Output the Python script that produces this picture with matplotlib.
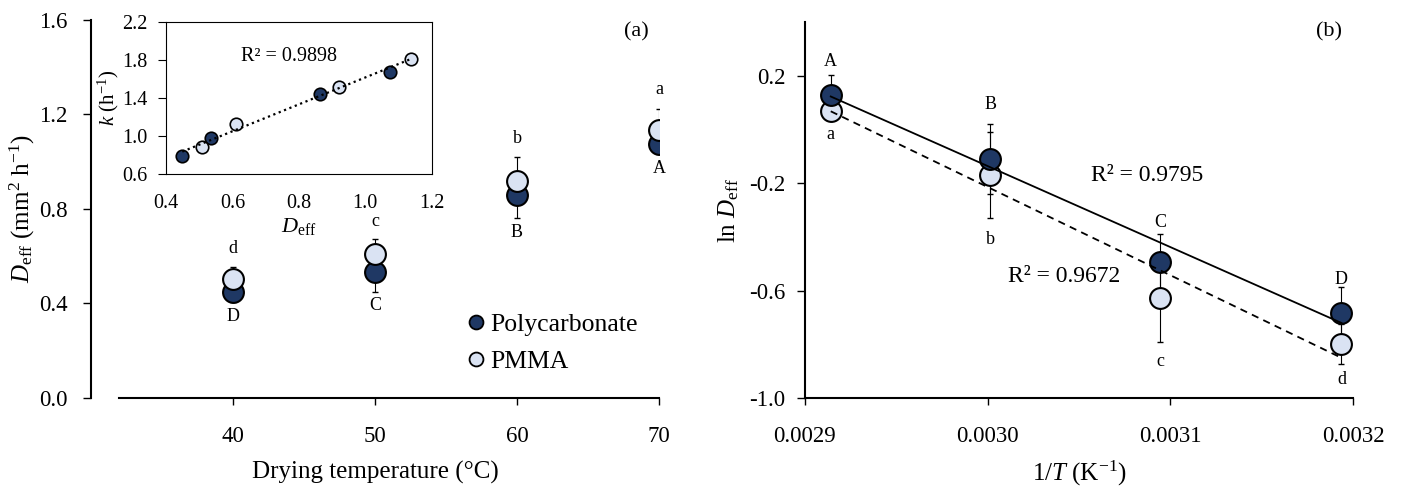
import matplotlib
matplotlib.use('Agg')
import matplotlib.pyplot as plt
from matplotlib.lines import Line2D
import numpy as np

plt.rcParams['font.family'] = ['Liberation Serif', 'DejaVu Serif']
plt.rcParams['mathtext.fontset'] = 'custom'
plt.rcParams['mathtext.rm'] = 'Liberation Serif'
plt.rcParams['mathtext.it'] = 'Liberation Serif:italic'
plt.rcParams['axes.unicode_minus'] = False

dark = '#1F3864'
light = '#DAE3F3'

# (a) D_eff vs drying temperature
temps = [40, 50, 60, 70]
deff_pc = [0.447, 0.535, 0.860, 1.074]
err_pc = [0.04, 0.085, 0.098, 0.04]
deff_pmma = [0.505, 0.608, 0.920, 1.134]
err_pmma = [0.049, 0.065, 0.100, 0.088]
lab_pmma = ['d', 'c', 'b', 'a']
lab_pmma_y = [0.634, 0.749, 1.099, 1.307]
lab_pc = ['D', 'C', 'B', 'A']
lab_pc_y = [0.347, 0.391, 0.701, 0.972]

# inset: k vs D_eff
ins_deff_pc = [0.449, 0.535, 0.863, 1.073]
ins_k_pc = [0.795, 0.984, 1.445, 1.672]
ins_deff_pmma = [0.507, 0.610, 0.920, 1.137]
ins_k_pmma = [0.883, 1.124, 1.519, 1.812]

# (b) Arrhenius plot
inv_T = [0.0029141, 0.0030014, 0.0030945, 0.0031937]
ln_pc = [0.127, -0.109, -0.495, -0.683]
ln_err_pc = [0.075, 0.13, 0.105, 0.095]
ln_pmma = [0.070, -0.169, -0.629, -0.799]
ln_err_pmma = [0.03, 0.161, 0.162, 0.075]
lab_b_up = ['A', 'B', 'C', 'D']
lab_b_up_y = [0.252, 0.091, -0.346, -0.560]
lab_b_dn = ['a', 'b', 'c', 'd']
lab_b_dn_y = [-0.020, -0.411, -0.865, -0.931]

fig = plt.figure(figsize=(14.03, 4.86), dpi=100)

# ---------------- panel (a) ----------------
ax = fig.add_axes([0.06486, 0.18107, 0.40485, 0.77778])
ax.errorbar(temps, deff_pc, yerr=err_pc, fmt='none', ecolor='black',
            elinewidth=0.8, capsize=2, zorder=2)
ax.errorbar(temps, deff_pmma, yerr=err_pmma, fmt='none', ecolor='black',
            elinewidth=0.8, capsize=2, zorder=2)
ax.plot(temps, deff_pc, 'o', ms=15, mfc=dark, mec='black', mew=1.5, ls='none', zorder=3)
ax.plot(temps, deff_pmma, 'o', ms=15, mfc=light, mec='black', mew=1.5, ls='none', zorder=4)
for t, s, y in zip(temps, lab_pmma, lab_pmma_y):
    ax.text(t, y, s, ha='center', va='center', fontsize=13)
for t, s, y in zip(temps, lab_pc, lab_pc_y):
    ax.text(t, y, s, ha='center', va='center', fontsize=13)
ax.text(68.4, 1.55, '(a)', ha='center', va='center', fontsize=16)

ax.set_xlim(30, 70)
ax.set_ylim(0, 1.6)
ax.set_xticks([40, 50, 60, 70])
ax.set_yticks([0.0, 0.4, 0.8, 1.2, 1.6])
ax.set_yticklabels(['0.0', '0.4', '0.8', '1.2', '1.6'])
ax.spines['top'].set_visible(False)
ax.spines['right'].set_visible(False)
ax.spines['bottom'].set_bounds(32, 70)
ax.spines['left'].set_linewidth(1.5)
ax.spines['bottom'].set_linewidth(1.5)
ax.tick_params(axis='x', length=5, width=1, pad=15, labelsize=16.5)
ax.tick_params(axis='y', length=6, width=1, pad=11, labelsize=16.5)
ax.set_xlabel('Drying temperature (°C)', fontsize=18, labelpad=10)
ax.set_ylabel(r'$D_{\mathrm{eff}}$ (mm$^2$ h$^{-1}$)', fontsize=18, labelpad=1)

handles = [Line2D([], [], marker='o', ls='none', ms=10, mfc=dark, mec='black', mew=1.3),
           Line2D([], [], marker='o', ls='none', ms=10, mfc=light, mec='black', mew=1.3)]
ax.legend(handles, ['Polycarbonate', 'PMMA'], loc='upper left',
          bbox_to_anchor=(0.323, 0.377), bbox_transform=fig.transFigure,
          frameon=False, fontsize=18.5, handletextpad=0.05, handlelength=1.0,
          labelspacing=0.55, borderaxespad=0)

# ---------------- inset ----------------
ins = fig.add_axes([0.11832, 0.64136, 0.18938, 0.31399])
x_all = np.array(ins_deff_pc + ins_deff_pmma)
y_all = np.array(ins_k_pc + ins_k_pmma)
p = np.polyfit(x_all, y_all, 1)
xx = np.array([x_all.min(), x_all.max()])
ins.plot(ins_deff_pc, ins_k_pc, 'o', ms=9, mfc=dark, mec='black', mew=1.2, zorder=3)
ins.plot(ins_deff_pmma, ins_k_pmma, 'o', ms=9, mfc=light, mec='black', mew=1.2, zorder=3)
ins.plot(xx, np.polyval(p, xx), color='black', ls=(0, (1, 1.6)), lw=1.6, zorder=4)
ins.text(0.771, 1.833, 'R² = 0.9898', ha='center', va='center', fontsize=14.5)
ins.set_xlim(0.4, 1.2)
ins.set_ylim(0.6, 2.2)
ins.set_xticks([0.4, 0.6, 0.8, 1.0, 1.2])
ins.set_xticklabels(['0.4', '0.6', '0.8', '1.0', '1.2'])
ins.set_yticks([0.6, 1.0, 1.4, 1.8, 2.2])
ins.set_yticklabels(['0.6', '1.0', '1.4', '1.8', '2.2'])
ins.tick_params(axis='x', length=0, pad=14, labelsize=14.5)
ins.tick_params(axis='y', length=6, width=0.8, pad=7, labelsize=14.5)
for sp in ins.spines.values():
    sp.set_linewidth(0.8)
ins.set_xlabel(r'$D_{\mathrm{eff}}$', fontsize=16)
ins.xaxis.set_label_coords(0.5, -0.27)
ins.set_ylabel(r'$k$ (h$^{-1}$)', fontsize=15, labelpad=1)

# ---------------- panel (b) ----------------
bx = fig.add_axes([0.57377, 0.18107, 0.39059, 0.77366])
bx.errorbar(inv_T, ln_pmma, yerr=ln_err_pmma, fmt='none', ecolor='black',
            elinewidth=0.8, capsize=2, zorder=2)
bx.errorbar(inv_T, ln_pc, yerr=ln_err_pc, fmt='none', ecolor='black',
            elinewidth=0.8, capsize=2, zorder=2)
bx.plot(inv_T, ln_pmma, 'o', ms=15, mfc=light, mec='black', mew=1.5, zorder=3)
bx.plot(inv_T, ln_pc, 'o', ms=15, mfc=dark, mec='black', mew=1.5, zorder=4)

xt = np.array([inv_T[0], inv_T[-1]])
p_pc = np.polyfit(inv_T, ln_pc, 1)
p_pm = np.polyfit(inv_T, ln_pmma, 1)
bx.plot(xt, np.polyval(p_pc, xt), color='black', lw=1.3, zorder=5)
bx.plot(xt, np.polyval(p_pm, xt), color='black', lw=1.3, ls=(0, (4, 3)), zorder=5)

for x, s, y in zip(inv_T, lab_b_up, lab_b_up_y):
    bx.text(x, y, s, ha='center', va='center', fontsize=13)
for x, s, y in zip(inv_T, lab_b_dn, lab_b_dn_y):
    bx.text(x, y, s, ha='center', va='center', fontsize=13)
bx.text(0.0030874, -0.173, 'R² = 0.9795', ha='center', va='center', fontsize=17)
bx.text(0.0030418, -0.547, 'R² = 0.9672', ha='center', va='center', fontsize=17)
bx.text(0.0031869, 0.365, '(b)', ha='center', va='center', fontsize=16)

bx.set_xlim(0.0029, 0.0032)
bx.set_ylim(-1.0, 0.4)
bx.set_xticks([0.0029, 0.0030, 0.0031, 0.0032])
bx.set_xticklabels(['0.0029', '0.0030', '0.0031', '0.0032'])
bx.set_yticks([-1.0, -0.6, -0.2, 0.2])
bx.set_yticklabels(['-1.0', '-0.6', '-0.2', '0.2'])
bx.spines['top'].set_visible(False)
bx.spines['right'].set_visible(False)
bx.spines['left'].set_linewidth(1.5)
bx.spines['bottom'].set_linewidth(1.5)
bx.tick_params(axis='x', length=5, width=1, pad=15, labelsize=16.5)
bx.tick_params(axis='y', length=6, width=1, pad=8, labelsize=16.5)
bx.set_xlabel(r'1/$T$ (K$^{-1}$)', fontsize=18, labelpad=9)
bx.set_ylabel(r'ln $D_{\mathrm{eff}}$', fontsize=18, labelpad=6)

fig.savefig('out.png', dpi=100)
